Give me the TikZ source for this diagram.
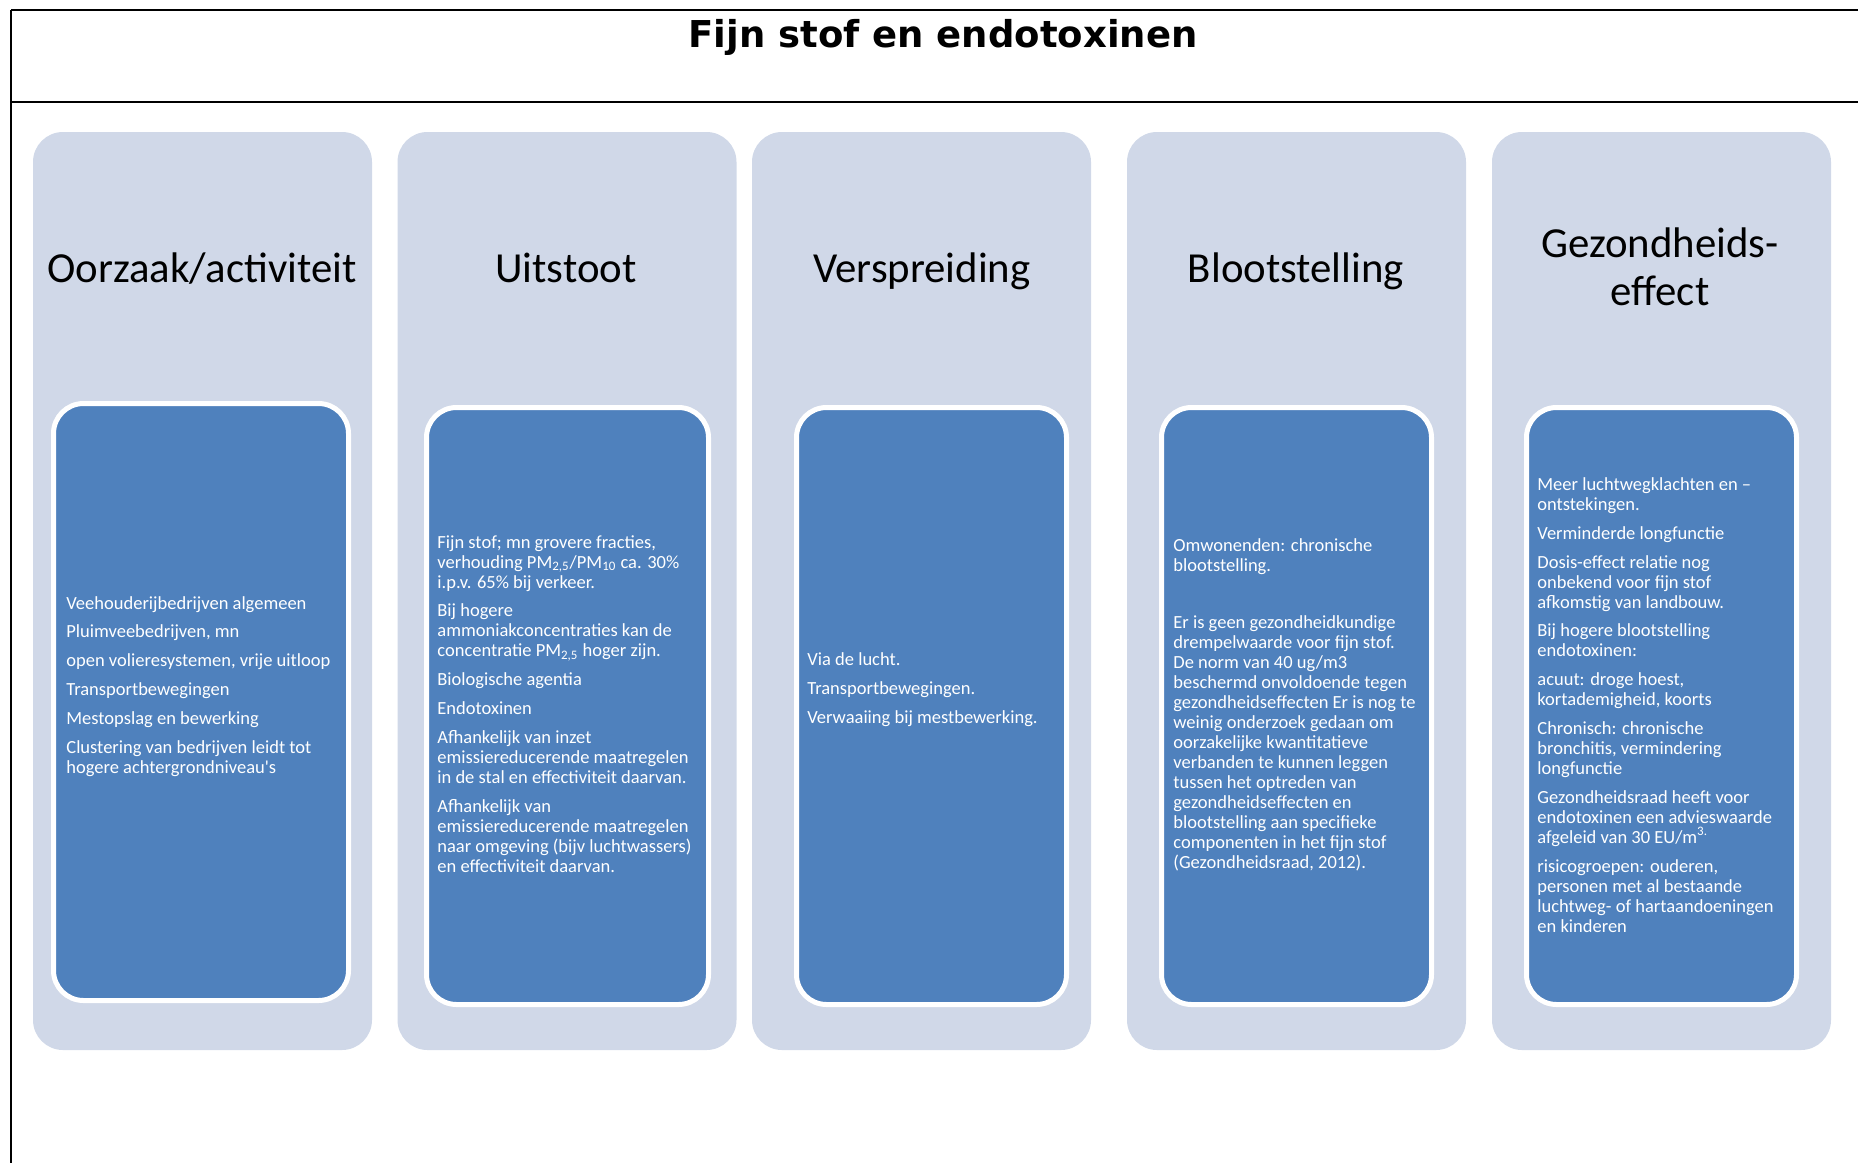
\documentclass[tikz,border=0pt]{standalone}
\usepackage{fontspec}
\setmainfont{Carlito}
\newfontfamily\titlefont{DejaVu Sans}
\definecolor{panelgray}{HTML}{D0D8E8}
\definecolor{panelblue}{HTML}{4F81BD}

\begin{document}
\begin{tikzpicture}[x=0.5pt, y=-0.5pt,
    colbox/.style={fill=panelgray, rounded corners=15pt, inner sep=0pt,
      minimum width=169.5pt, minimum height=459pt},
    textbox/.style={fill=panelblue, draw=white, line width=2.5pt,
      rounded corners=15pt, inner sep=0pt, minimum height=298.5pt},
    headtext/.style={font=\fontsize{21.4}{24}\selectfont, align=center,
      inner sep=0pt, anchor=base},
    bodytext/.style={font=\fontsize{9.25}{10}\selectfont, text=white,
      align=left, inner sep=0pt, anchor=base west}]
    \useasboundingbox (0,0) rectangle (1858,1162);

    % Frame and title
    \coordinate (frameTL) at (11,10);
    \coordinate (frameBL) at (11,1180);
    \draw[line width=1.15pt] (frameTL) -- (1880,10);
    \draw[line width=1.15pt] (11,102) -- (1880,102);
    \draw[line width=0.75pt] (frameTL) -- (frameBL);
    \node[anchor=base, inner sep=0pt] (title) at (943,47)
      {\titlefont\bfseries\fontsize{18.5}{20}\selectfont Fijn stof en endotoxinen};

    % Oorzaak/activiteit (text placed by its last line)
    \node[colbox] (oorzaak) at (202.5,591) {};
    \node[textbox, minimum width=147.5pt] (oorzaakbox) at (201,702) {};
    \node[headtext] (oorzaakhead) at (202,282) {Oorzaak/activiteit};
    \node[bodytext] (oorzaaktext) at (66,773) {Veehouderijbedrijven algemeen\\[4.4pt]
      Pluimveebedrijven, mn\\[4.4pt]
      open volieresystemen, vrije uitloop\\[4.4pt]
      Transportbewegingen\\[4.4pt]
      Mestopslag en bewerking\\[4.4pt]
      Clustering van bedrijven leidt tot\\
      hogere achtergrondniveau\textquotesingle s};

    % Uitstoot
    \node[colbox] (uitstoot) at (567,591) {};
    \node[textbox, minimum width=141pt] (uitstootbox) at (567.5,706) {};
    \node[headtext] (uitstoothead) at (566,282) {Uitstoot};
    \node[bodytext] (uitstoottext) at (437,872) {Fijn stof; mn grovere fracties,\\
      verhouding PM\textsubscript{2,5}/PM\textsubscript{10} ca. 30\%\\
      i.p.v. 65\% bij verkeer.\\[4.4pt]
      Bij hogere\\
      ammoniakconcentraties kan de\\
      concentratie PM\textsubscript{2,5} hoger zijn.\\[4.4pt]
      Biologische agentia\\[4.4pt]
      Endotoxinen\\[4.4pt]
      Afhankelijk van inzet\\
      emissiereducerende maatregelen\\
      in de stal en effectiviteit daarvan.\\[4.4pt]
      Afhankelijk van\\
      emissiereducerende maatregelen\\
      naar omgeving (bijv luchtwassers)\\
      en effectiviteit daarvan.};

    % Verspreiding
    \node[colbox] (verspreiding) at (921.5,591) {};
    \node[textbox, minimum width=135pt] (verspreidingbox) at (931.5,706) {};
    \node[headtext] (verspreidinghead) at (922,282) {Verspreiding};
    \node[bodytext] (verspreidingtext) at (807,723) {Via de lucht.\\[4.4pt]
      Transportbewegingen.\\[4.4pt]
      Verwaaiing bij mestbewerking.};

    % Blootstelling
    \node[colbox] (blootstelling) at (1296.5,591) {};
    \node[textbox, minimum width=135pt] (blootstellingbox) at (1296.5,706) {};
    \node[headtext] (blootstellinghead) at (1296,282) {Blootstelling};
    \node[bodytext] (blootstellingtext) at (1173,868) {Omwonenden: chronische\\
      blootstelling.\\[18.5pt]
      Er is geen gezondheidkundige\\
      drempelwaarde voor fijn stof.\\
      De norm van 40 ug/m3\\
      beschermd onvoldoende tegen\\
      gezondheidseffecten Er is nog te\\
      weinig onderzoek gedaan om\\
      oorzakelijke kwantitatieve\\
      verbanden te kunnen leggen\\
      tussen het optreden van\\
      gezondheidseffecten en\\
      blootstelling aan specifieke\\
      componenten in het fijn stof\\
      (Gezondheidsraad, 2012).};

    % Gezondheidseffect
    \node[colbox] (effect) at (1661.5,591) {};
    \node[textbox, minimum width=135pt] (effectbox) at (1661.5,706) {};
    \node[headtext] (effecthead) at (1660,305) {Gezondheids-\\effect};
    \node[bodytext] (effecttext) at (1537,932) {Meer luchtwegklachten en --\\
      ontstekingen.\\[4.4pt]
      Verminderde longfunctie\\[4.4pt]
      Dosis-effect relatie nog\\
      onbekend voor fijn stof\\
      afkomstig van landbouw.\\[4.4pt]
      Bij hogere blootstelling\\
      endotoxinen:\\[4.4pt]
      acuut: droge hoest,\\
      kortademigheid, koorts\\[4.4pt]
      Chronisch: chronische\\
      bronchitis, vermindering\\
      longfunctie\\[4.4pt]
      Gezondheidsraad heeft voor\\
      endotoxinen een advieswaarde\\
      afgeleid van 30 EU/m\textsuperscript{3.}\\[4.4pt]
      risicogroepen: ouderen,\\
      personen met al bestaande\\
      luchtweg- of hartaandoeningen\\
      en kinderen};
\end{tikzpicture}
\end{document}
